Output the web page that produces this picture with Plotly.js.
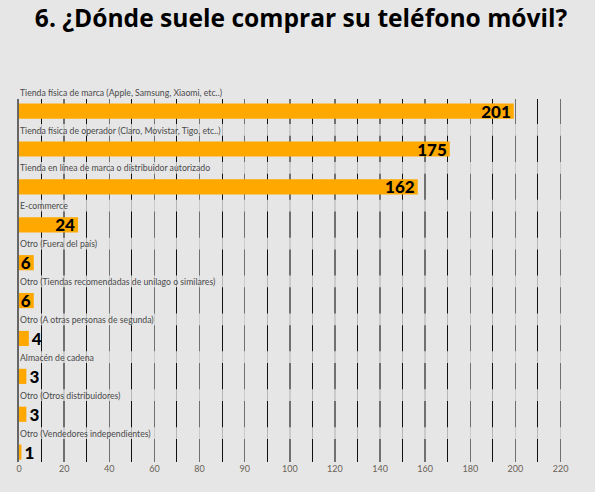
<!DOCTYPE html>
<html>
<head>
<meta charset="utf-8">
<script src="https://cdn.plot.ly/plotly-3.0.1.min.js"></script>
<style>html,body{margin:0;padding:0;background:#e6e6e6;}#chart{width:595px;height:492px;}</style>
</head>
<body>
<div id="chart"></div>
<script>
const TITLE = "6. ¿Dónde suele comprar su teléfono móvil?";
const categories = [
  "Tienda física de marca (Apple, Samsung, Xiaomi, etc..)",
  "Tienda física de operador (Claro, Movistar, Tigo, etc..)",
  "Tienda en línea de marca o distribuidor autorizado",
  "E-commerce",
  "Otro (Fuera del país)",
  "Otro (Tiendas recomendadas de unilago o similares)",
  "Otro (A otras personas de segunda)",
  "Almacén de cadena",
  "Otro (Otros distribuidores)",
  "Otro (Vendedores independientes)"
];
const values = [201, 175, 162, 24, 6, 6, 4, 3, 3, 1];
const tickLabels = ["0","20","40","60","80","90","100","120","140","160","180","200","220"];
const AXIS_MAX = 220;

const slot = AXIS_MAX / (tickLabels.length - 1);
const tickVals = tickLabels.map((_, i) => i * slot);
const BG = '#e6e6e6';
const ORANGE = '#ffa800';

const trace = {
  type: 'bar',
  orientation: 'h',
  x: values,
  y: categories,
  marker: {color: ORANGE},
  width: 0.4,
  text: values.map(String),
  textposition: values.map(v => v >= 6 ? 'inside' : 'outside'),
  insidetextanchor: 'end',
  constraintext: 'none',
  cliponaxis: false,
  textangle: 0,
  textfont: {family: 'Lato, sans-serif', size: 17, color: '#000', weight: 900},
  hoverinfo: 'skip'
};

const annotations = categories.map(c => ({
  x: 0, xref: 'x', y: c, yref: 'y', yshift: 19,
  text: c, showarrow: false, xanchor: 'left', yanchor: 'middle', xshift: -1,
  font: {family: 'Lato, sans-serif', size: 8.7, color: '#4a4a4a'}
}));

const shapes = categories.map((c, i) => ({
  type: 'rect', xref: 'paper', x0: 0, x1: 1, yref: 'y', y0: i - 0.66, y1: i - 0.35,
  fillcolor: 'rgba(230,230,230,0.78)', line: {width: 0}, layer: 'above'
}));

const layout = {
  width: 595, height: 492,
  paper_bgcolor: BG, plot_bgcolor: BG,
  margin: {l: 19, r: 32, t: 99, b: 30},
  title: {text: '<b>' + TITLE + '</b>', x: 0.506, xref: 'container', xanchor: 'center',
          y: 0.962, yref: 'container', yanchor: 'middle',
          font: {family: '"Open Sans", sans-serif', size: 24.6, color: '#000', weight: 800}},
  showlegend: false,
  xaxis: {
    range: [0, AXIS_MAX + 1], tickmode: 'array', tickvals: tickVals, ticktext: tickLabels,
    showgrid: true, gridcolor: '#707070', gridwidth: 1.5, zeroline: false,
    showline: false, ticks: '',
    tickfont: {family: 'Lato, sans-serif', size: 9, color: '#6a6258'},
    minor: {dtick: slot / 2, tick0: 0, showgrid: true, gridcolor: '#111', gridwidth: 1, ticks: ''},
    fixedrange: true
  },
  yaxis: {
    type: 'category', categoryorder: 'array', categoryarray: categories,
    range: [9.26, -0.32], showticklabels: false, showgrid: false, zeroline: false,
    showline: true, linecolor: '#666', linewidth: 2, ticks: '', fixedrange: true
  },
  annotations: annotations,
  shapes: shapes,
  bargap: 0.6
};

Plotly.newPlot('chart', [trace], layout, {displayModeBar: false, staticPlot: true});
</script>
</body>
</html>
